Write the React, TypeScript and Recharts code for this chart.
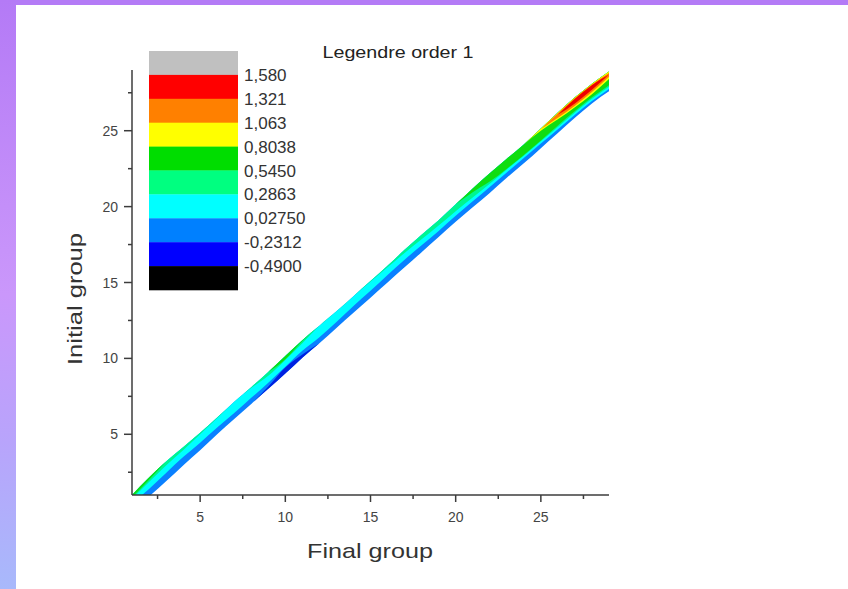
import React from "react";
import { ComposedChart, Area, XAxis, YAxis } from "recharts";

// contour band, one value per final group
const finalGroup = [1, 2, 3, 4, 5, 6, 7, 8, 9, 10, 11, 12, 13, 14, 15, 16, 17, 18, 19, 20, 21, 22, 23, 24, 25, 26, 27, 28, 29];
const upperEdge = [1.0, 2.15, 3.2, 4.15, 5.1, 6.1, 7.15, 8.1, 9.1, 10.15, 11.2, 12.15, 13.1, 14.1, 15.1, 16.1, 17.15, 18.15, 19.1, 20.15, 21.2, 22.2, 23.15, 24.1, 25.15, 26.2, 27.2, 28.1, 28.9];
const lowerEdge = [-0.1, 0.9, 1.9, 2.95, 3.95, 5.0, 6.0, 7.0, 8.0, 9.0, 10.05, 11.0, 12.0, 13.0, 14.0, 15.0, 16.0, 17.0, 18.0, 19.0, 19.95, 20.9, 21.9, 22.85, 23.85, 24.85, 25.85, 26.8, 27.6];
const cyanFloor = [0.45, 1.4, 2.45, 3.5, 4.45, 5.45, 6.4, 7.4, 8.4, 9.45, 10.5, 11.4, 12.4, 13.45, 14.45, 15.5, 16.5, 17.45, 18.4, 19.4, 20.35, 21.3, 22.25, 23.2, 24.15, 25.1, 26.05, 26.95, 27.75];
const springFloor = [0.75, 1.85, 2.95, 3.95, 5.0, 6.05, 7.15, 8.05, 8.85, 9.9, 11.0, 12.15, 13.1, 14.1, 15.05, 16.0, 16.95, 17.85, 18.75, 19.7, 20.6, 21.5, 22.45, 23.35, 24.3, 25.25, 26.2, 27.1, 27.9];
const greenFloor = [0.85, 2.0, 3.2, null, null, null, null, null, 9.1, 9.95, 11.15, 12.15, null, null, null, null, null, null, null, 20.15, 20.95, 21.65, 22.5, 23.4, 24.35, 25.35, 26.3, 27.2, 28.0];
const yellowFloor = [null, null, null, null, null, null, null, null, null, null, null, null, null, null, null, null, null, null, null, null, null, null, null, 24.1, 25.0, 25.75, 26.55, 27.4, 28.4];
const orangeFloor = [null, null, null, null, null, null, null, null, null, null, null, null, null, null, null, null, null, null, null, null, null, null, null, null, 25.1, 25.85, 26.65, 27.55, 28.55];
const orangeTop = [null, null, null, null, null, null, null, null, null, null, null, null, null, null, null, null, null, null, null, null, null, null, null, null, 25.1, 26.15, 27.15, 28.05, 28.8];
const redFloor = [null, null, null, null, null, null, null, null, null, null, null, null, null, null, null, null, null, null, null, null, null, null, null, null, null, 26.05, 26.8, 27.7, 28.7];
const redTop = [null, null, null, null, null, null, null, null, null, null, null, null, null, null, null, null, null, null, null, null, null, null, null, null, null, 26.05, 27.1, 28.0, 28.7];
const blueTop = [null, null, null, null, null, null, null, 7.0, 8.15, 9.4, 10.25, 11.0, null, null, null, null, null, null, null, null, null, null, null, null, null, null, null, null, null];

const axisTicks = [2.5, 5, 7.5, 10, 12.5, 15, 17.5, 20, 22.5, 25, 27.5];

const legendColors = ["#c0c0c0", "#ff0000", "#ff8000", "#ffff00", "#00dd00", "#00ff80", "#00ffff", "#0080ff", "#0000ff", "#000000"];
const legendLabels = ["1,580", "1,321", "1,063", "0,8038", "0,5450", "0,2863", "0,02750", "-0,2312", "-0,4900"];

const pair = (lo: number | null, hi: number | null) => (lo == null || hi == null ? null : [lo, hi]);

const data = finalGroup.map((x, i) => ({
  x,
  azure: pair(lowerEdge[i], upperEdge[i]),
  cyan: pair(cyanFloor[i], upperEdge[i]),
  spring: pair(springFloor[i], upperEdge[i]),
  green: pair(greenFloor[i], upperEdge[i]),
  yellow: pair(yellowFloor[i], upperEdge[i]),
  orange: pair(orangeFloor[i], orangeTop[i]),
  red: pair(redFloor[i], redTop[i]),
  blue: pair(blueTop[i] == null ? null : lowerEdge[i], blueTop[i]),
}));

const layers = [
  { key: "azure", color: "#0a80ff" },
  { key: "cyan", color: "#00ffff" },
  { key: "spring", color: "#00f590" },
  { key: "green", color: "#10dd10" },
  { key: "yellow", color: "#ffff00" },
  { key: "orange", color: "#ff8000" },
  { key: "red", color: "#ee0000" },
  { key: "blue", color: "#0020e0" },
];

const axisColor = "#3c3c3c";
const font = "'Liberation Sans', Arial, sans-serif";

const BottomTick = (props: any) => {
  const { x, y, payload } = props;
  const major = payload.value % 5 === 0;
  return (
    <g>
      <line x1={x} x2={x} y1={y} y2={y + (major ? 7 : 4)} stroke={axisColor} strokeWidth={1.5} />
      {major && (
        <text x={x} y={y + 27} textAnchor="middle" fontSize={14} fill="#444" fontFamily={font}>
          {payload.value}
        </text>
      )}
    </g>
  );
};

const LeftTick = (props: any) => {
  const { x, y, payload } = props;
  const major = payload.value % 5 === 0;
  return (
    <g>
      <line x1={x} x2={x - (major ? 8 : 4)} y1={y} y2={y} stroke={axisColor} strokeWidth={1.5} />
      {major && (
        <text x={x - 14} y={y + 5} textAnchor="end" fontSize={14} fill="#444" fontFamily={font}>
          {payload.value}
        </text>
      )}
    </g>
  );
};

const App = () => {
  return (
    <div style={{ position: "absolute", left: 0, top: 0, width: 848, height: 589, background: "#fff", overflow: "hidden" }}>
      <div style={{ position: "absolute", left: 0, top: 0, width: 848, height: 5, background: "#b47bf6" }} />
      <div
        style={{
          position: "absolute",
          left: 0,
          top: 0,
          width: 16,
          height: 589,
          background: "linear-gradient(to bottom, #b47af6 0%, #c48ff9 35%, #ca97fb 50%, #b8a4fb 75%, #a8b9fb 100%)",
        }}
      />
      <div style={{ position: "absolute", left: 0, top: 0 }}>
        <ComposedChart width={848} height={589} data={data} margin={{ top: 70, right: 239, bottom: 54, left: 72 }}>
          <XAxis
            type="number"
            dataKey="x"
            domain={[1, 29]}
            allowDataOverflow
            ticks={axisTicks}
            interval={0}
            tickSize={0}
            tickMargin={0}
            tickLine={false}
            tick={<BottomTick />}
            height={40}
            axisLine={{ stroke: axisColor, strokeWidth: 1.5 }}
          />
          <YAxis
            type="number"
            domain={[1, 29]}
            allowDataOverflow
            ticks={axisTicks}
            interval={0}
            tickSize={0}
            tickMargin={0}
            tickLine={false}
            tick={<LeftTick />}
            width={60}
            axisLine={{ stroke: axisColor, strokeWidth: 1.5 }}
          />
          {layers.map((l) => (
            <Area
              key={l.key}
              dataKey={l.key}
              type="monotone"
              stroke="none"
              fill={l.color}
              fillOpacity={1}
              dot={false}
              activeDot={false}
              isAnimationActive={false}
            />
          ))}
        </ComposedChart>
      </div>
      <svg width={848} height={589} style={{ position: "absolute", left: 0, top: 0, pointerEvents: "none" }}>
        {legendColors.map((c, i) => (
          <rect key={c} x={149} y={51 + i * 23.9} width={89} height={24.2} fill={c} />
        ))}
        {legendLabels.map((t, i) => (
          <text key={t} x={244} y={51 + (i + 1) * 23.9 + 6} fontSize={17} fill="#333" fontFamily={font}>
            {t}
          </text>
        ))}
        <text x={398} y={58} textAnchor="middle" fontSize={17} fill="#222" fontFamily={font} textLength={151} lengthAdjust="spacingAndGlyphs">
          Legendre order 1
        </text>
        <text x={370} y={558} textAnchor="middle" fontSize={21} fill="#333" fontFamily={font} textLength={126} lengthAdjust="spacingAndGlyphs">
          Final group
        </text>
        <text
          x={0}
          y={0}
          transform="translate(82 299) rotate(-90)"
          textAnchor="middle"
          fontSize={21}
          fill="#333"
          fontFamily={font}
          textLength={132}
          lengthAdjust="spacingAndGlyphs"
        >
          Initial group
        </text>
      </svg>
    </div>
  );
};

export default App;
